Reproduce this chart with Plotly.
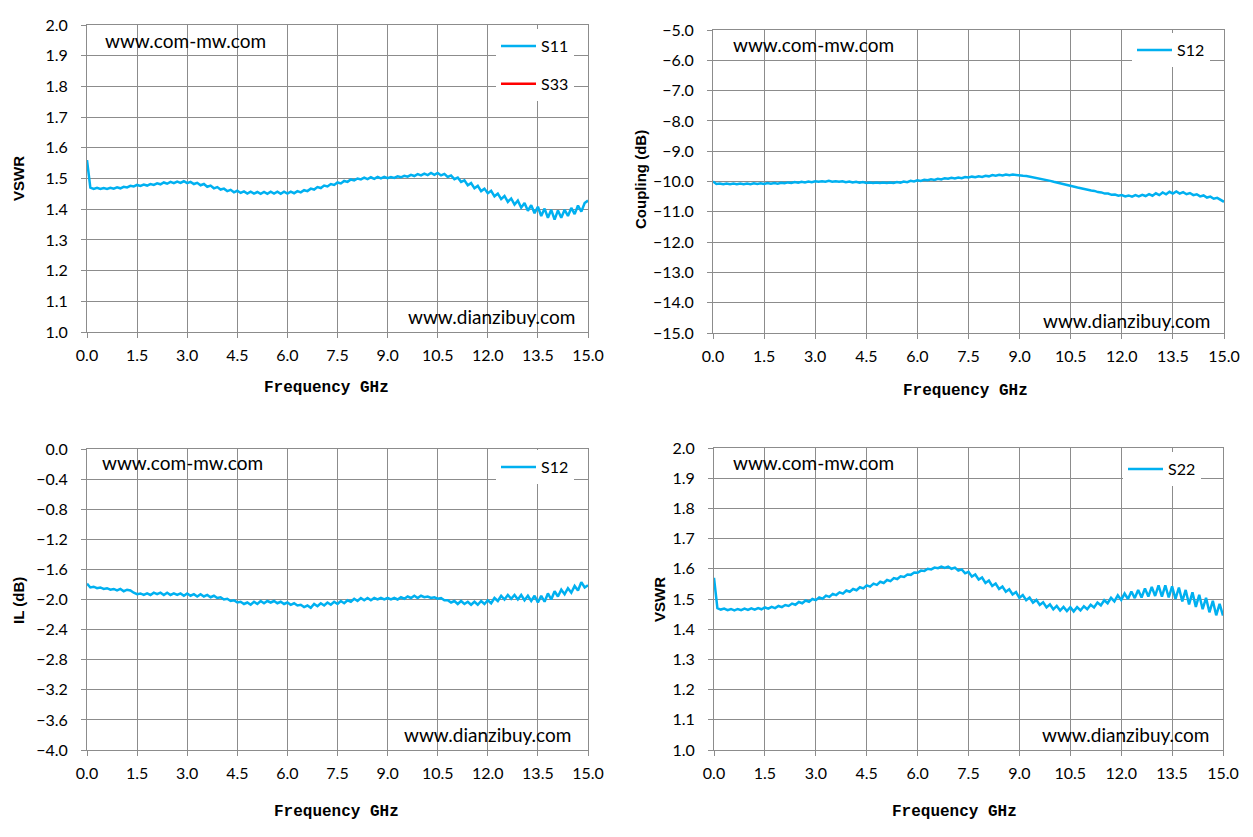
import plotly.graph_objects as go

# frequency points (GHz), 0.1 GHz step
freq = [
    0.0, 0.1, 0.2, 0.3, 0.4, 0.5, 0.6, 0.7, 0.8, 0.9,
    1.0, 1.1, 1.2, 1.3, 1.4, 1.5, 1.6, 1.7, 1.8, 1.9,
    2.0, 2.1, 2.2, 2.3, 2.4, 2.5, 2.6, 2.7, 2.8, 2.9,
    3.0, 3.1, 3.2, 3.3, 3.4, 3.5, 3.6, 3.7, 3.8, 3.9,
    4.0, 4.1, 4.2, 4.3, 4.4, 4.5, 4.6, 4.7, 4.8, 4.9,
    5.0, 5.1, 5.2, 5.3, 5.4, 5.5, 5.6, 5.7, 5.8, 5.9,
    6.0, 6.1, 6.2, 6.3, 6.4, 6.5, 6.6, 6.7, 6.8, 6.9,
    7.0, 7.1, 7.2, 7.3, 7.4, 7.5, 7.6, 7.7, 7.8, 7.9,
    8.0, 8.1, 8.2, 8.3, 8.4, 8.5, 8.6, 8.7, 8.8, 8.9,
    9.0, 9.1, 9.2, 9.3, 9.4, 9.5, 9.6, 9.7, 9.8, 9.9,
    10.0, 10.1, 10.2, 10.3, 10.4, 10.5, 10.6, 10.7, 10.8, 10.9,
    11.0, 11.1, 11.2, 11.3, 11.4, 11.5, 11.6, 11.7, 11.8, 11.9,
    12.0, 12.1, 12.2, 12.3, 12.4, 12.5, 12.6, 12.7, 12.8, 12.9,
    13.0, 13.1, 13.2, 13.3, 13.4, 13.5, 13.6, 13.7, 13.8, 13.9,
    14.0, 14.1, 14.2, 14.3, 14.4, 14.5, 14.6, 14.7, 14.8, 14.9,
    15.0,
]

s11_vswr = [
    1.560, 1.470, 1.466, 1.470, 1.466, 1.469, 1.466, 1.470, 1.467, 1.471,
    1.468, 1.473, 1.471, 1.476, 1.474, 1.479, 1.476, 1.480, 1.477, 1.482,
    1.479, 1.484, 1.481, 1.487, 1.483, 1.489, 1.485, 1.490, 1.486, 1.491,
    1.485, 1.489, 1.482, 1.486, 1.478, 1.482, 1.473, 1.477, 1.468, 1.472,
    1.464, 1.467, 1.459, 1.463, 1.455, 1.460, 1.453, 1.458, 1.451, 1.457,
    1.451, 1.456, 1.450, 1.456, 1.450, 1.457, 1.451, 1.457, 1.450, 1.457,
    1.451, 1.457, 1.452, 1.459, 1.455, 1.462, 1.459, 1.467, 1.464, 1.472,
    1.469, 1.477, 1.474, 1.482, 1.479, 1.487, 1.484, 1.492, 1.489, 1.497,
    1.494, 1.500, 1.497, 1.503, 1.498, 1.504, 1.499, 1.505, 1.500, 1.505,
    1.501, 1.505, 1.502, 1.507, 1.504, 1.509, 1.506, 1.512, 1.508, 1.514,
    1.510, 1.516, 1.511, 1.518, 1.512, 1.518, 1.510, 1.515, 1.505, 1.510,
    1.498, 1.503, 1.489, 1.494, 1.478, 1.485, 1.468, 1.476, 1.459, 1.467,
    1.452, 1.460, 1.442, 1.451, 1.433, 1.443, 1.424, 1.435, 1.415, 1.428,
    1.405, 1.420, 1.395, 1.413, 1.387, 1.408, 1.378, 1.402, 1.372, 1.398,
    1.366, 1.396, 1.372, 1.398, 1.378, 1.404, 1.384, 1.412, 1.392, 1.420,
    1.428,
]

s12_coupling = [
    -10.00, -10.08, -10.07, -10.09, -10.07, -10.09, -10.07, -10.09, -10.07, -10.09,
    -10.07, -10.09, -10.06, -10.08, -10.06, -10.08, -10.05, -10.07, -10.05, -10.07,
    -10.04, -10.06, -10.03, -10.05, -10.02, -10.04, -10.01, -10.03, -10.00, -10.02,
    -9.99, -10.01, -9.99, -10.01, -9.98, -10.01, -9.99, -10.01, -9.99, -10.02,
    -10.00, -10.03, -10.01, -10.04, -10.02, -10.05, -10.03, -10.05, -10.03, -10.05,
    -10.03, -10.05, -10.03, -10.05, -10.02, -10.04, -10.00, -10.02, -9.98, -10.00,
    -9.96, -9.98, -9.94, -9.96, -9.93, -9.95, -9.91, -9.93, -9.89, -9.91,
    -9.88, -9.90, -9.87, -9.89, -9.85, -9.87, -9.84, -9.86, -9.83, -9.85,
    -9.81, -9.83, -9.79, -9.81, -9.78, -9.80, -9.77, -9.79, -9.77, -9.79,
    -9.79, -9.81, -9.82, -9.84, -9.86, -9.88, -9.91, -9.93, -9.96, -9.98,
    -10.01, -10.04, -10.07, -10.10, -10.12, -10.15, -10.17, -10.20, -10.22, -10.25,
    -10.26, -10.30, -10.31, -10.35, -10.36, -10.40, -10.40, -10.44, -10.43, -10.47,
    -10.45, -10.49, -10.46, -10.50, -10.45, -10.49, -10.44, -10.48, -10.42, -10.47,
    -10.39, -10.45, -10.36, -10.42, -10.34, -10.40, -10.33, -10.40, -10.35, -10.42,
    -10.38, -10.45, -10.42, -10.49, -10.46, -10.53, -10.50, -10.57, -10.54, -10.61,
    -10.67,
]

s12_il = [
    -1.79, -1.84, -1.83, -1.85, -1.84, -1.86, -1.85, -1.87, -1.86, -1.88,
    -1.86, -1.89, -1.87, -1.88, -1.91, -1.93, -1.92, -1.94, -1.92, -1.94,
    -1.91, -1.93, -1.91, -1.94, -1.91, -1.94, -1.92, -1.94, -1.92, -1.95,
    -1.92, -1.95, -1.93, -1.96, -1.93, -1.96, -1.94, -1.97, -1.95, -1.98,
    -1.97, -2.00, -1.99, -2.02, -2.01, -2.04, -2.03, -2.06, -2.04, -2.07,
    -2.03, -2.06, -2.02, -2.05, -2.02, -2.04, -2.02, -2.05, -2.03, -2.06,
    -2.04, -2.07, -2.05, -2.08, -2.07, -2.10, -2.08, -2.11, -2.06, -2.09,
    -2.05, -2.08, -2.04, -2.07, -2.03, -2.06, -2.02, -2.05, -2.01, -2.03,
    -1.99, -2.02, -1.98, -2.01, -1.98, -2.01, -1.98, -2.00, -1.98, -2.00,
    -1.98, -2.00, -1.98, -2.00, -1.97, -1.99, -1.96, -1.98, -1.95, -1.98,
    -1.95, -1.97, -1.96, -1.98, -1.97, -1.99, -1.98, -2.01, -2.01, -2.04,
    -2.02, -2.06, -2.02, -2.06, -2.03, -2.07, -2.03, -2.07, -2.02, -2.06,
    -2.01, -2.05, -1.98, -2.02, -1.95, -2.00, -1.94, -1.99, -1.94, -2.00,
    -1.94, -2.01, -1.95, -2.02, -1.95, -2.04, -1.95, -2.03, -1.92, -2.00,
    -1.89, -1.96, -1.87, -1.93, -1.85, -1.91, -1.82, -1.88, -1.77, -1.84,
    -1.81,
]

s22_vswr = [
    1.570, 1.470, 1.465, 1.468, 1.463, 1.467, 1.462, 1.467, 1.463, 1.468,
    1.464, 1.469, 1.465, 1.470, 1.466, 1.472, 1.468, 1.474, 1.470, 1.477,
    1.473, 1.480, 1.477, 1.485, 1.481, 1.490, 1.486, 1.495, 1.491, 1.500,
    1.496, 1.505, 1.501, 1.511, 1.507, 1.517, 1.513, 1.522, 1.518, 1.528,
    1.524, 1.533, 1.529, 1.539, 1.535, 1.545, 1.541, 1.551, 1.547, 1.557,
    1.553, 1.563, 1.559, 1.569, 1.566, 1.575, 1.573, 1.581, 1.580, 1.588,
    1.587, 1.594, 1.593, 1.600, 1.598, 1.604, 1.602, 1.607, 1.603, 1.607,
    1.600, 1.604, 1.594, 1.598, 1.585, 1.590, 1.574, 1.581, 1.564, 1.571,
    1.553, 1.561, 1.543, 1.551, 1.533, 1.541, 1.524, 1.532, 1.515, 1.523,
    1.504, 1.513, 1.496, 1.505, 1.488, 1.497, 1.480, 1.489, 1.472, 1.482,
    1.466, 1.477, 1.462, 1.474, 1.460, 1.473, 1.459, 1.473, 1.462, 1.476,
    1.466, 1.481, 1.472, 1.488, 1.479, 1.496, 1.486, 1.504, 1.492, 1.512,
    1.497, 1.518, 1.500, 1.525, 1.503, 1.530, 1.505, 1.535, 1.508, 1.540,
    1.510, 1.545, 1.508, 1.545, 1.505, 1.542, 1.500, 1.538, 1.492, 1.530,
    1.482, 1.522, 1.474, 1.514, 1.466, 1.504, 1.456, 1.494, 1.446, 1.484,
    1.445,
]

x_ticks = [0.0, 1.5, 3.0, 4.5, 6.0, 7.5, 9.0, 10.5, 12.0, 13.5, 15.0]

# the page body adds an 8px margin, so the figure is a bit smaller than the window
OFF = 8
W, H = 1253 - OFF, 837 - OFF
BLUE = "#00B0F0"
GRID = "#8c8c8c"
TICKFONT = dict(family="Lato", size=16, color="#000000")


def px_x(v):
    return (v - OFF) / W


def px_y(v):
    return 1 - (v - OFF) / H


# plot boxes in window pixels: left, right, top, bottom
boxes = {
    1: (87, 588, 25, 332),
    2: (713, 1224, 30, 333),
    3: (87, 588, 449, 750),
    4: (714, 1223, 448, 750),
}
y_ranges = {1: (1.0, 2.0, 0.1), 2: (-15.0, -5.0, 1.0), 3: (-4.0, 0.0, 0.4), 4: (1.0, 2.0, 0.1)}

fig = go.Figure()


def add_line(n, y, name, color, legend):
    sfx = "" if n == 1 else str(n)
    fig.add_trace(go.Scatter(
        x=freq if y is not None else [None], y=y if y is not None else [None],
        mode="lines", name=name, line=dict(color=color, width=2.5),
        xaxis="x" + sfx, yaxis="y" + sfx, legend=legend, legendgroup=name + str(n),
    ))


add_line(1, s11_vswr, "S11", BLUE, "legend")
add_line(1, None, "S33", "#FF0000", "legend")
add_line(2, s12_coupling, "S12", BLUE, "legend2")
add_line(3, s12_il, "S12", BLUE, "legend3")
add_line(4, s22_vswr, "S22", BLUE, "legend4")

layout = dict(
    width=W, height=H, autosize=False,
    margin=dict(l=0, r=0, t=0, b=0, pad=0, autoexpand=False),
    paper_bgcolor="white", plot_bgcolor="white",
    font=dict(family="Lato", color="#000000"),
)

for n, (l, r, t, b) in boxes.items():
    sfx = "" if n == 1 else str(n)
    lo, hi, dt = y_ranges[n]
    layout["xaxis" + sfx] = dict(
        domain=[px_x(l), px_x(r)], anchor="y" + sfx, range=[0, 15], automargin=False,
        tickmode="array", tickvals=x_ticks, ticktext=[f"{v:.1f}" for v in x_ticks],
        showgrid=True, gridcolor=GRID, gridwidth=1, zeroline=False,
        showline=True, linecolor=GRID, linewidth=1, mirror=True,
        ticks="outside", ticklen=5, tickcolor=GRID, tickfont=TICKFONT,
        ticklabelstandoff=4,
    )
    layout["yaxis" + sfx] = dict(
        domain=[px_y(b), px_y(t)], anchor="x" + sfx, range=[lo, hi], automargin=False,
        tick0=lo, dtick=dt, tickformat=".1f",
        showgrid=True, gridcolor=GRID, gridwidth=1, zeroline=False,
        showline=True, linecolor=GRID, linewidth=1, mirror=True,
        ticks="outside", ticklen=5, tickcolor=GRID, tickfont=TICKFONT,
        ticklabelstandoff=10,
    )

legend_pos = {"legend": (496, 29), "legend2": (1132, 33), "legend3": (496, 450), "legend4": (1123, 452)}
for key, (lx, ly) in legend_pos.items():
    layout[key] = dict(
        x=px_x(lx), y=px_y(ly), xanchor="left", yanchor="top",
        bgcolor="white", borderwidth=0, font=dict(family="Lato", size=16, color="#000000"),
        traceorder="grouped", tracegroupgap=14, itemwidth=35,
    )

fig.update_layout(**layout)

watermarks = [
    ("www.com-mw.com", 103, 41), ("www.dianzibuy.com", 406, 316),
    ("www.com-mw.com", 731, 44), ("www.dianzibuy.com", 1041, 320),
    ("www.com-mw.com", 100, 462), ("www.dianzibuy.com", 402, 734),
    ("www.com-mw.com", 731, 462), ("www.dianzibuy.com", 1040, 734),
]
for text, ax, ay in watermarks:
    fig.add_annotation(text=text, xref="paper", yref="paper", x=px_x(ax), y=px_y(ay),
                       xanchor="left", yanchor="middle", showarrow=False,
                       font=dict(family="Lato", size=19, color="#000000"))

y_titles = [("VSWR", 18, 178), ("Coupling (dB)", 641, 180), ("IL (dB)", 18, 600), ("VSWR", 659, 600)]
for text, ax, ay in y_titles:
    fig.add_annotation(text=text, xref="paper", yref="paper", x=px_x(ax), y=px_y(ay),
                       xanchor="center", yanchor="middle", textangle=-90, showarrow=False,
                       font=dict(family="Liberation Sans", size=15, color="#000000", weight="bold"))

x_titles = [(326, 388), (966, 391), (336, 812), (954, 812)]
for ax, ay in x_titles:
    fig.add_annotation(text="Frequency GHz", xref="paper", yref="paper", x=px_x(ax), y=px_y(ay),
                       xanchor="center", yanchor="middle", showarrow=False,
                       font=dict(family="Liberation Mono", size=16, color="#000000", weight="bold"))

fig.write_html("out.html")
